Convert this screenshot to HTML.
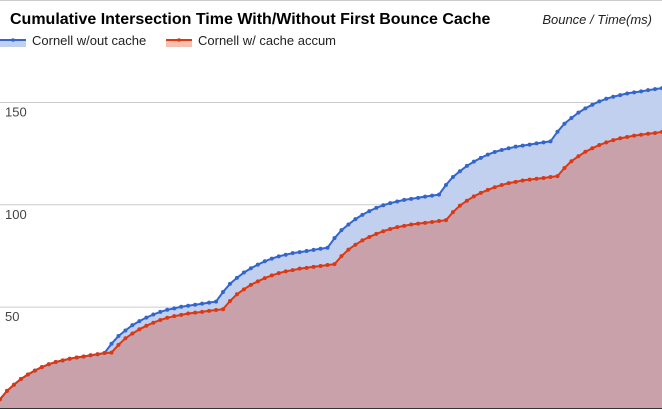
<!DOCTYPE html>
<html><head><meta charset="utf-8"><style>
html,body{margin:0;padding:0;background:#fff;width:662px;height:409px;overflow:hidden}
svg{display:block;font-family:"Liberation Sans",Arial,sans-serif}
</style></head><body>
<svg id="chart" width="662" height="409">
<line x1="0" y1="0.5" x2="662" y2="0.5" stroke="#cccccc" stroke-width="1"/>
<text x="10" y="24" font-size="16" font-weight="bold" fill="#000">Cumulative Intersection Time With/Without First Bounce Cache</text>
<text x="652" y="24" font-size="13" font-style="italic" text-anchor="end" fill="#222">Bounce / Time(ms)</text>
<g>
<rect x="0" y="40" width="26" height="7" fill="#c2d0ef"/><line x1="0" y1="40" x2="26" y2="40" stroke="#3366cc" stroke-width="2"/><circle cx="13" cy="40" r="1.8" fill="#3366cc"/>
<text x="32" y="45" font-size="13" fill="#222">Cornell w/out cache</text></g>
<g>
<rect x="166" y="40" width="26" height="7" fill="#f3c0b2"/><line x1="166" y1="40" x2="192" y2="40" stroke="#dc3912" stroke-width="2"/><circle cx="179" cy="40" r="1.8" fill="#dc3912"/>
<text x="198" y="45" font-size="13" fill="#222">Cornell w/ cache accum</text></g>
<g id="grid"></g><g id="areas"></g><g id="lines"></g><g id="ticks"></g>
</svg>
<script>
const blueValues=[5,9.1,12.1,14.9,17.1,19,20.7,22.1,23.2,24,24.8,25.4,25.9,26.5,27,27.6,
32.1,35.9,38.6,41.2,43.2,44.9,46.4,47.7,48.7,49.4,50.2,50.7,51.2,51.7,52.2,52.7,
57.4,61.4,64.3,66.9,69,70.8,72.4,73.7,74.8,75.6,76.4,76.9,77.4,78,78.5,79,
83.7,87.6,90.4,93,95.1,96.9,98.5,99.8,100.8,101.6,102.4,102.9,103.4,104,104.5,105,
109.7,113.6,116.4,119,121.1,122.9,124.5,125.8,126.8,127.6,128.4,128.9,129.4,130,130.5,131,
135.7,139.6,142.4,145,147.1,148.9,150.5,151.8,152.8,153.6,154.4,154.9,155.4,156,156.5,157];
const redValues=[5,9.1,12.1,14.9,17.1,19,20.7,22.1,23.2,24,24.8,25.4,25.9,26.5,27,27.6,27.8,
31.6,34.8,37.1,39.2,40.9,42.4,43.7,44.8,45.6,46.2,46.9,47.3,47.7,48.2,48.6,49,
53,56.3,58.7,60.9,62.6,64.2,65.5,66.6,67.5,68.1,68.8,69.2,69.7,70.1,70.6,71,
74.9,78.1,80.5,82.6,84.3,85.8,87.1,88.2,89.1,89.7,90.4,90.8,91.2,91.6,92.1,92.5,
96.4,99.6,102,104.1,105.8,107.3,108.6,109.7,110.6,111.2,111.9,112.3,112.7,113.1,113.6,114,
118,121.3,123.7,125.9,127.6,129.2,130.5,131.6,132.5,133.1,133.8,134.2,134.7,135.1,135.6];
const tickValues=[50,100,150];
const tickLabels=["50","100","150"];
const NS="http://www.w3.org/2000/svg";
const n=blueValues.length;
function xs(i){return i*662/(n-1);}
function ys(v){return 409.5-v*2.047;}
function mk(tag,attrs,parent){const e=document.createElementNS(NS,tag);for(const k in attrs)e.setAttribute(k,attrs[k]);document.getElementById(parent).appendChild(e);return e;}
tickValues.forEach((t,j)=>{
  const l=mk('line',{x1:0,x2:662,y1:ys(t),y2:ys(t),stroke:'#cccccc','stroke-width':1},'grid');
  
  
  const tx=mk('text',{x:5,y:ys(t)+14,'font-size':13,fill:'#444'},'ticks');
  tx.textContent=tickLabels[j];
  
  
});
function series(vals,fill,stroke,name){
  let d='M0,409';vals.forEach((v,i)=>{d+=' L'+xs(i).toFixed(1)+','+ys(v).toFixed(1);});
  d+=' L'+xs(vals.length-1)+',409 Z';
  const a=mk('path',{d:d,fill:fill},'areas');
  
  
  const pts=vals.map((v,i)=>xs(i).toFixed(1)+','+ys(v).toFixed(1)).join(' ');
  const p=mk('polyline',{points:pts,fill:'none',stroke:stroke,'stroke-width':2},'lines');
  
  
  vals.forEach((v,i)=>{
    const c=mk('circle',{cx:xs(i),cy:ys(v),r:2,fill:stroke},'lines');
    
    
  });
}
series(blueValues,'#c2d0ef','#3366cc','without-cache');
series(redValues,'#c9a1ab','#dc3912','with-cache');
const ax=mk('line',{x1:0,x2:662,y1:408.5,y2:408.5,stroke:'#333','stroke-width':1},'ticks');


</script>
</body></html>
